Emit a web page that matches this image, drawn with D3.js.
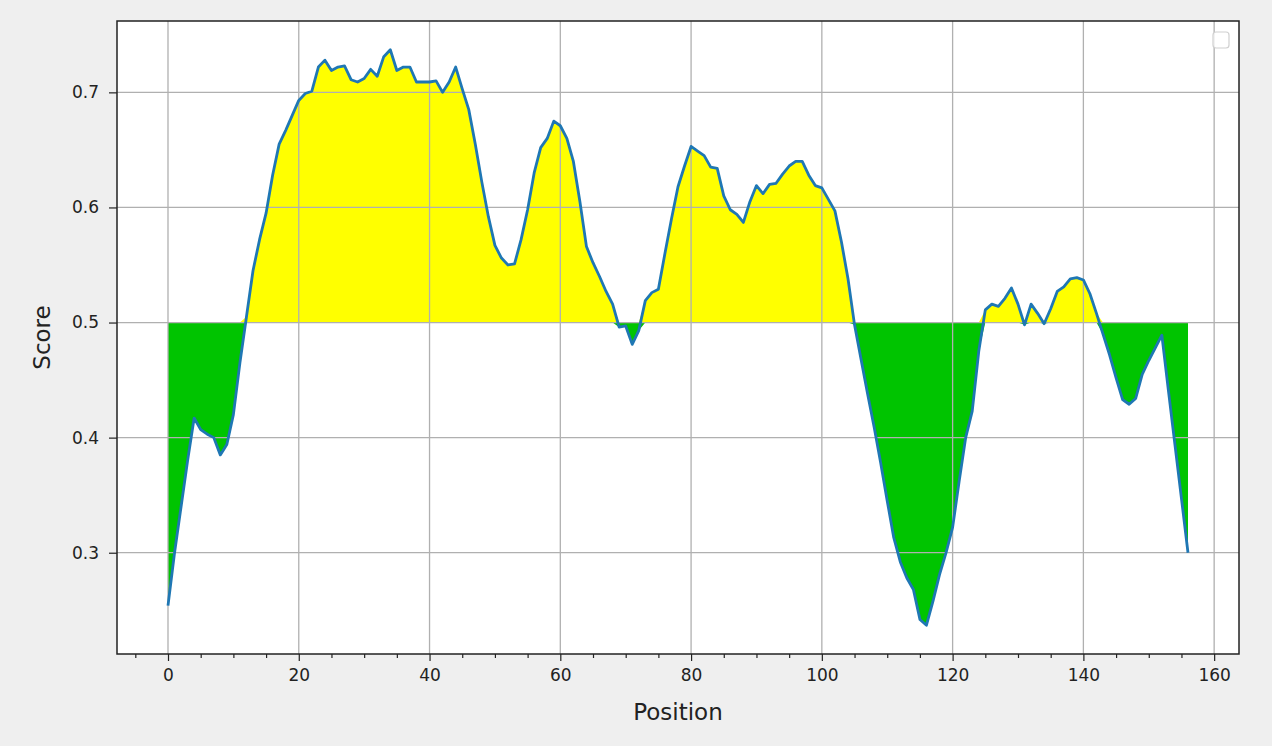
<!DOCTYPE html>
<html>
<head>
<meta charset="utf-8">
<script src="https://cdn.jsdelivr.net/npm/d3@7"></script>
<style>
  html, body { margin: 0; padding: 0; background: #efefef; }
  svg { display: block; font-family: "DejaVu Sans", sans-serif; }
</style>
</head>
<body>
<div id="vis"></div>
<script>
// score per position (position = index)
var scores = [
  0.254, 0.300, 0.340, 0.380, 0.417, 0.407, 0.403, 0.400, 0.385, 0.394,
  0.420, 0.465, 0.505, 0.545, 0.572, 0.595, 0.628, 0.655, 0.667, 0.680,
  0.693, 0.699, 0.701, 0.722, 0.728, 0.719, 0.722, 0.723, 0.711, 0.709,
  0.712, 0.720, 0.714, 0.731, 0.737, 0.719, 0.722, 0.722, 0.709, 0.709,
  0.709, 0.710, 0.700, 0.709, 0.722, 0.703, 0.685, 0.655, 0.622, 0.592,
  0.567, 0.556, 0.550, 0.551, 0.572, 0.598, 0.630, 0.652, 0.660, 0.675,
  0.671, 0.660, 0.640, 0.605, 0.566, 0.552, 0.540, 0.527, 0.516, 0.496,
  0.497, 0.481, 0.493, 0.519, 0.526, 0.529, 0.560, 0.590, 0.618, 0.636,
  0.653, 0.649, 0.645, 0.635, 0.634, 0.610, 0.598, 0.594, 0.587, 0.605,
  0.619, 0.612, 0.620, 0.621, 0.629, 0.636, 0.640, 0.640, 0.628, 0.619,
  0.617, 0.607, 0.597, 0.570, 0.538, 0.498, 0.468, 0.438, 0.409, 0.378,
  0.345, 0.313, 0.292, 0.278, 0.268, 0.242, 0.237, 0.258, 0.281, 0.300,
  0.322, 0.362, 0.400, 0.423, 0.475, 0.511, 0.516, 0.514, 0.521, 0.530,
  0.516, 0.498, 0.516, 0.508, 0.499, 0.512, 0.527, 0.531, 0.538, 0.539,
  0.537, 0.525, 0.508, 0.490, 0.472, 0.452, 0.433, 0.429, 0.434, 0.455,
  0.467, 0.478, 0.489, 0.441, 0.394, 0.347, 0.300
];

var threshold = 0.5;
var xTicks = [0, 20, 40, 60, 80, 100, 120, 140, 160];
var xMinorTicks = [-5, 5, 10, 15, 25, 30, 35, 45, 50, 55, 65, 70, 75, 85, 90, 95,
                   105, 110, 115, 125, 130, 135, 145, 150, 155];
var yTicks = [0.3, 0.4, 0.5, 0.6, 0.7];

var width = 1272;
var height = 746;

var margin = { top: 21, left: 117, right: 33, bottom: 92 };

var svg = d3.select("#vis")
    .append("svg")
    .attr("width", width)
    .attr("height", height);

var w = width - margin.left - margin.right;
var h = height - margin.top - margin.bottom;

var data = scores.map(function(s, i) { return { x: i, y: s }; });

// matplotlib style 5% margins
var xExt = d3.extent(data, function(d) { return d.x; });
var yExt = d3.extent(data, function(d) { return d.y; });
var xPad = (xExt[1] - xExt[0]) * 0.05;
var yPad = (yExt[1] - yExt[0]) * 0.05;

var xscale = d3.scaleLinear()
    .domain([xExt[0] - xPad, xExt[1] + xPad])
    .range([0, w]);

var yscale = d3.scaleLinear()
    .domain([yExt[0] - yPad, yExt[1] + yPad])
    .range([h, 0]);

var g = svg.append("g")
    .attr("transform", "translate(" + margin.left + "," + margin.top + ")");

// plot background
g.append("rect")
    .attr("width", w)
    .attr("height", h)
    .attr("fill", "#ffffff");

// fills above / below threshold
var above = d3.area()
    .x(function(d) { return xscale(d.x); })
    .y0(yscale(threshold))
    .y1(function(d) { return yscale(Math.max(d.y, threshold)); });

var below = d3.area()
    .x(function(d) { return xscale(d.x); })
    .y0(yscale(threshold))
    .y1(function(d) { return yscale(Math.min(d.y, threshold)); });

g.append("path")
    .datum(data)
    .attr("fill", "#ffff00")
    .attr("d", above);

g.append("path")
    .datum(data)
    .attr("fill", "#00c400")
    .attr("d", below);

// grid
g.append("g")
    .selectAll("line")
    .data(xTicks)
    .enter()
    .append("line")
    .attr("x1", function(d) { return xscale(d); })
    .attr("x2", function(d) { return xscale(d); })
    .attr("y1", 0)
    .attr("y2", h)
    .attr("stroke", "#b0b0b0")
    .attr("stroke-width", 1.3);

g.append("g")
    .selectAll("line")
    .data(yTicks)
    .enter()
    .append("line")
    .attr("x1", 0)
    .attr("x2", w)
    .attr("y1", function(d) { return yscale(d); })
    .attr("y2", function(d) { return yscale(d); })
    .attr("stroke", "#b0b0b0")
    .attr("stroke-width", 1.3);

// score line
var line = d3.line()
    .x(function(d) { return xscale(d.x); })
    .y(function(d) { return yscale(d.y); });

g.append("path")
    .datum(data)
    .attr("fill", "none")
    .attr("stroke", "#1f77b4")
    .attr("stroke-width", 2.8)
    .attr("stroke-linejoin", "round")
    .attr("d", line);

// axes
var xaxis = d3.axisBottom(xscale)
    .tickValues(xTicks)
    .tickFormat(d3.format("d"))
    .tickSize(7)
    .tickPadding(8)
    .tickSizeOuter(0);

var xaxisMinor = d3.axisBottom(xscale)
    .tickValues(xMinorTicks)
    .tickFormat("")
    .tickSize(4)
    .tickSizeOuter(0);

var yaxis = d3.axisLeft(yscale)
    .tickValues(yTicks)
    .tickFormat(d3.format(".1f"))
    .tickSize(8)
    .tickPadding(10)
    .tickSizeOuter(0);

g.append("g")
    .attr("class", "x axis")
    .attr("transform", "translate(0," + h + ")")
    .call(xaxis);

g.append("g")
    .attr("class", "x minor")
    .attr("transform", "translate(0," + h + ")")
    .call(xaxisMinor);

g.append("g")
    .attr("class", "y axis")
    .call(yaxis);

g.selectAll(".domain").remove();
g.selectAll(".tick line")
    .attr("stroke", "#222")
    .attr("stroke-width", 1.2);
g.selectAll(".tick text")
    .attr("fill", "#222")
    .style("font-family", '"DejaVu Sans", sans-serif')
    .style("font-size", "17px");

// spines
g.append("rect")
    .attr("width", w)
    .attr("height", h)
    .attr("fill", "none")
    .attr("stroke", "#222")
    .attr("stroke-width", 1.5);

// empty legend box
g.append("rect")
    .attr("x", w - 26)
    .attr("y", 11)
    .attr("width", 16)
    .attr("height", 16)
    .attr("rx", 3)
    .attr("fill", "#ffffff")
    .attr("fill-opacity", 0.8)
    .attr("stroke", "#d0d0d0")
    .attr("stroke-width", 1.2);

// axis titles
svg.append("text")
    .attr("transform", "translate(" + (margin.left + w / 2) + "," + (margin.top + h + 66) + ")")
    .style("text-anchor", "middle")
    .style("font-size", "23px")
    .attr("fill", "#222")
    .text("Position");

svg.append("text")
    .attr("transform", "translate(" + 50 + "," + (margin.top + h / 2) + ") rotate(-90)")
    .style("text-anchor", "middle")
    .style("font-size", "23px")
    .attr("fill", "#222")
    .text("Score");
</script>
</body>
</html>
